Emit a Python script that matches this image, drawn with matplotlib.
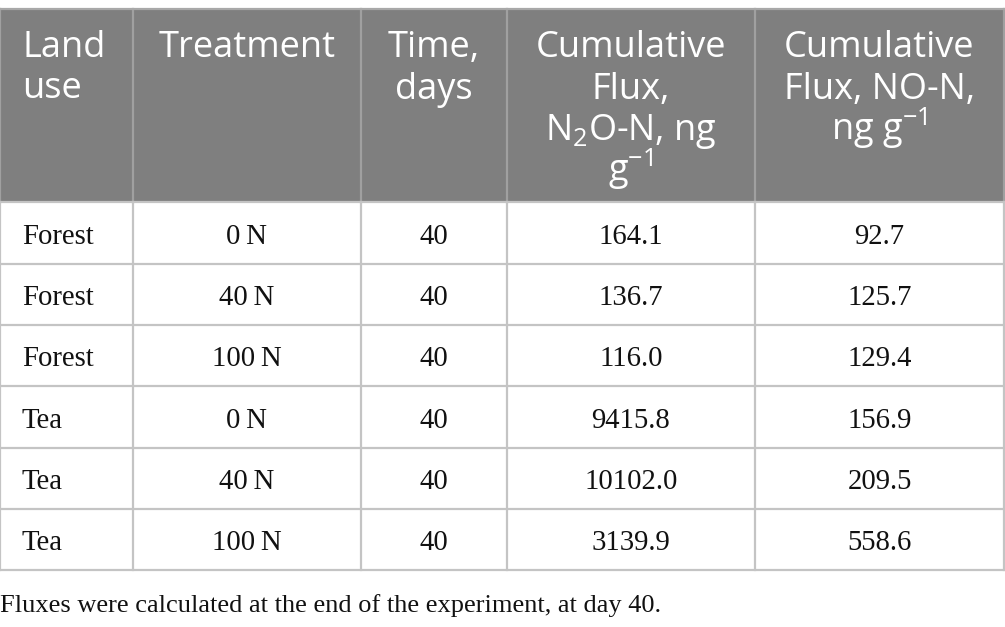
import matplotlib
matplotlib.use("Agg")
import matplotlib.pyplot as plt
from matplotlib.patches import Rectangle

plt.rcParams['mathtext.fontset'] = 'custom'
plt.rcParams['mathtext.rm'] = 'Open Sans'
plt.rcParams['mathtext.it'] = 'Open Sans'
plt.rcParams['mathtext.default'] = 'regular'

# ---- data ----
header_lines = [
    ["Land", "use"],
    ["Treatment"],
    ["Time,", "days"],
    ["Cumulative", "Flux,", "N$_2$O-N, ng", "g$^{-1}$"],
    ["Cumulative", "Flux, NO-N,", "ng g$^{-1}$"],
]
land_use = ["Forest", "Forest", "Forest", "Tea", "Tea", "Tea"]
treatment = ["0\u2009N", "40\u2009N", "100\u2009N", "0\u2009N", "40\u2009N", "100\u2009N"]
time_days = ["40", "40", "40", "40", "40", "40"]
n2o_flux = ["164.1", "136.7", "116.0", "9415.8", "10102.0", "3139.9"]
no_flux = ["92.7", "125.7", "129.4", "156.9", "209.5", "558.6"]
caption = "Fluxes were calculated at the end of the experiment, at day 40."

# ---- layout ----
W, H = 1005, 627
fig = plt.figure(figsize=(W / 100, H / 100), dpi=100)
ax = fig.add_axes([0, 0, 1, 1])
ax.set_xlim(0, W)
ax.set_ylim(H, 0)
ax.axis('off')

col_edges = [0, 133, 361, 507, 755, 1004]
row_edges = [202, 263.5, 325, 386, 447.5, 509, 570]
top = 8.5
header_bg = '#7f7f7f'
grid_c = '#c4c4c4'
sans = ['Open Sans', 'DejaVu Sans']
serif = ['Liberation Serif', 'DejaVu Serif']

ax.add_patch(Rectangle((0, top), col_edges[-1], row_edges[0] - top,
                       facecolor=header_bg, edgecolor='none', zorder=1))

# grid lines
lw = 1.6
ax.plot([0, col_edges[-1]], [top, top], color='#a8a8a8', lw=lw, zorder=3)
for y in row_edges:
    ax.plot([0, col_edges[-1]], [y, y], color=grid_c, lw=lw, zorder=3)
for x in col_edges:
    ax.plot([x, x], [top, row_edges[0]], color='#a0a0a0', lw=lw, zorder=2)
    ax.plot([x, x], [row_edges[0], row_edges[-1]], color=grid_c, lw=lw, zorder=2)

# header
base0 = 57
step = 41.5
for ci, lines in enumerate(header_lines):
    for li, t in enumerate(lines):
        if ci == 0:
            x, ha = 22, 'left'
        else:
            x, ha = (col_edges[ci] + col_edges[ci + 1]) / 2, 'center'
        ax.text(x, base0 + li * step, t, ha=ha, va='baseline', color='white',
                fontsize=26, family=sans, zorder=4)

# body
columns = [land_use, treatment, time_days, n2o_flux, no_flux]
for ci, col in enumerate(columns):
    for ri, t in enumerate(col):
        yc = (row_edges[ri] + row_edges[ri + 1]) / 2
        if ci == 0:
            x, ha = 22, 'left'
        else:
            x, ha = (col_edges[ci] + col_edges[ci + 1]) / 2, 'center'
        ax.text(x, yc + 11, t, ha=ha, va='baseline', color='#111111',
                fontsize=20.7, family=serif, zorder=4)

ax.text(0, 612, caption, ha='left', va='baseline', color='#111111',
        fontsize=19, family=serif)

fig.savefig('out.png', dpi=100, facecolor='white')
